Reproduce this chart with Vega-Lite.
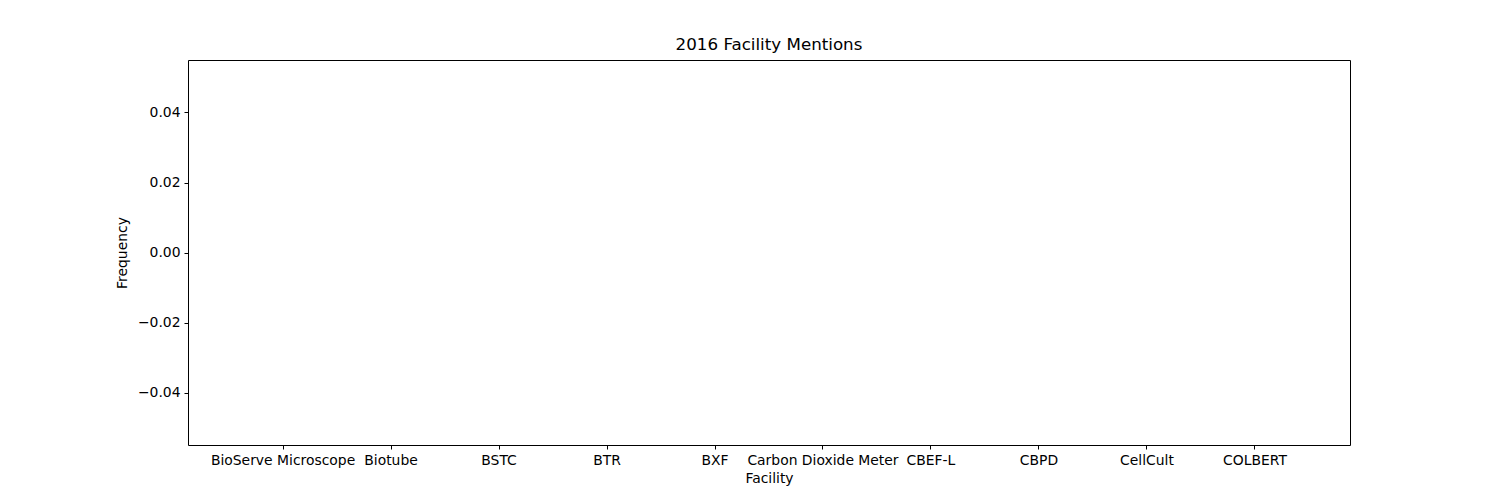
{
  "$schema": "https://vega.github.io/schema/vega-lite/v6.json",
  "width": 1162,
  "height": 385,
  "autosize": {"type": "none"},
  "padding": {"left": 188, "top": 60, "right": 150, "bottom": 55},
  "background": "white",
  "config": {
    "font": "DejaVu Sans",
    "view": {"stroke": "black", "strokeWidth": 1},
    "axis": {
      "grid": false,
      "domain": false,
      "tickColor": "black",
      "tickSize": 4,
      "labelColor": "black",
      "labelFontSize": 13.9,
      "titleFontSize": 13.9,
      "titleFontWeight": "normal",
      "titleColor": "black",
      "labelPadding": 4
    }
  },
  "title": {"text": "2016 Facility Mentions", "fontSize": 16.7, "fontWeight": "normal", "offset": 6},
  "data": {
    "values": [
      {"Facility": "BioServe Microscope", "Frequency": 0},
      {"Facility": "Biotube", "Frequency": 0},
      {"Facility": "BSTC", "Frequency": 0},
      {"Facility": "BTR", "Frequency": 0},
      {"Facility": "BXF", "Frequency": 0},
      {"Facility": "Carbon Dioxide Meter", "Frequency": 0},
      {"Facility": "CBEF-L", "Frequency": 0},
      {"Facility": "CBPD", "Frequency": 0},
      {"Facility": "CellCult", "Frequency": 0},
      {"Facility": "COLBERT", "Frequency": 0}
    ]
  },
  "mark": {"type": "bar", "color": "#1f77b4"},
  "encoding": {
    "x": {
      "field": "Facility",
      "type": "nominal",
      "sort": null,
      "scale": {"paddingInner": 0.2, "paddingOuter": 0.48},
      "axis": {"labelAngle": 0, "labelOverlap": false, "labelLimit": 0, "title": "Facility", "titlePadding": 5}
    },
    "y": {
      "field": "Frequency",
      "type": "quantitative",
      "scale": {"domain": [-0.055, 0.055], "nice": false, "zero": false},
      "axis": {"values": [-0.04, -0.02, 0, 0.02, 0.04], "format": ".2f", "title": "Frequency", "titlePadding": 8}
    }
  }
}
